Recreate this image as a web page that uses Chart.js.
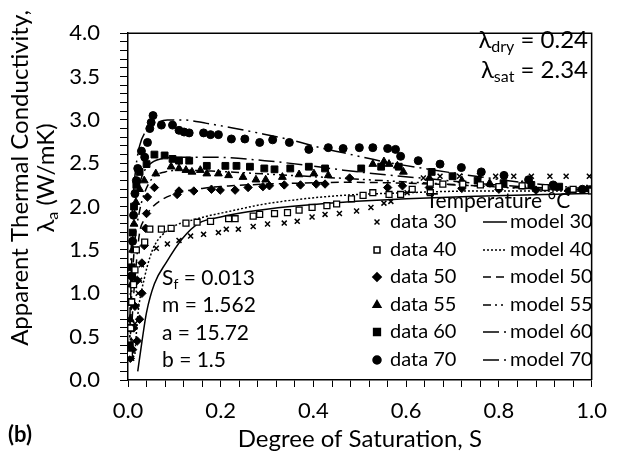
<!DOCTYPE html>
<html>
<head>
<meta charset="utf-8">
<script src="https://cdn.jsdelivr.net/npm/chart.js@4.4.1/dist/chart.umd.min.js"></script>
<style>
  html, body { margin: 0; padding: 0; background: #fff; }
  #wrap { width: 618px; height: 455px; }
</style>
</head>
<body>
<div id="wrap"><canvas id="c"></canvas></div>
<script>
// measured data (degree of saturation S, apparent conductivity)
const S_D30 = [0.008,0.012,0.015,0.018,0.022,0.025,0.029,0.061,0.085,0.11,0.135,0.163,0.195,0.212,0.238,0.27,0.301,0.337,0.365,0.397,0.425,0.456,0.493,0.524,0.552,0.567,0.602,0.637,0.673,0.715,0.758,0.793,0.832,0.87,0.91,0.945,0.995]
const L_D30 = [0.25,0.45,0.65,0.85,1.0,1.15,1.33,1.52,1.57,1.61,1.66,1.68,1.70,1.74,1.74,1.77,1.80,1.81,1.83,1.88,1.91,1.92,1.95,1.99,2.04,2.06,2.16,2.33,2.35,2.35,2.36,2.35,2.35,2.35,2.35,2.35,2.35]

const S_D40 = [0.003,0.006,0.008,0.012,0.015,0.018,0.036,0.047,0.072,0.093,0.125,0.149,0.178,0.217,0.231,0.27,0.284,0.316,0.344,0.369,0.397,0.429,0.45,0.482,0.507,0.528,0.563,0.588,0.613,0.652,0.652,0.679,0.722,0.76,0.8,0.85,0.9,0.96,1.0]
const L_D40 = [0.3,0.6,0.9,1.1,1.27,1.5,1.59,1.74,1.74,1.75,1.81,1.82,1.83,1.86,1.86,1.89,1.91,1.92,1.93,1.96,1.99,2.01,2.03,2.09,2.13,2.16,2.14,2.14,2.20,2.16,2.27,2.26,2.26,2.25,2.23,2.24,2.22,2.20,2.18]

const S_D50 = [0.005,0.01,0.02,0.012,0.025,0.015,0.03,0.02,0.03,0.035,0.038,0.04,0.042,0.057,0.106,0.11,0.142,0.18,0.199,0.231,0.259,0.291,0.305,0.337,0.372,0.406,0.425,0.478,0.56,0.592,0.65,0.72,0.8,0.88,0.95]
const L_D50 = [0.25,0.35,0.45,0.6,0.7,0.85,1.0,1.15,1.35,1.55,1.75,1.92,2.11,2.22,2.14,2.18,2.18,2.20,2.19,2.19,2.22,2.23,2.24,2.25,2.25,2.26,2.26,2.33,2.22,2.24,2.22,2.21,2.20,2.19,2.18]

const S_D55 = [0.003,0.005,0.007,0.01,0.013,0.017,0.025,0.035,0.06,0.093,0.11,0.125,0.138,0.156,0.17,0.195,0.217,0.248,0.276,0.297,0.333,0.369,0.401,0.432,0.528,0.552,0.563,0.581,0.594,0.65,0.72,0.78,0.85,0.92,0.99]
const L_D55 = [0.3,0.7,1.1,1.5,1.8,2.05,2.2,2.3,2.38,2.46,2.44,2.42,2.40,2.42,2.38,2.38,2.36,2.34,2.31,2.31,2.34,2.37,2.38,2.36,2.49,2.52,2.49,2.47,2.40,2.33,2.30,2.27,2.25,2.22,2.20]

const S_D60 = [0.004,0.006,0.008,0.01,0.013,0.018,0.025,0.04,0.057,0.079,0.096,0.11,0.132,0.17,0.21,0.234,0.263,0.294,0.316,0.35,0.39,0.425,0.503,0.546,0.584,0.655,0.70,0.754,0.81,0.87,0.93,1.0]
const L_D60 = [0.4,0.9,1.3,1.7,2.0,2.25,2.4,2.49,2.60,2.59,2.55,2.53,2.53,2.47,2.47,2.47,2.46,2.44,2.43,2.44,2.46,2.44,2.44,2.46,2.46,2.40,2.35,2.30,2.27,2.25,2.23,2.20]

const S_D70 = [0.005,0.008,0.01,0.012,0.015,0.018,0.021,0.029,0.036,0.042,0.047,0.05,0.054,0.072,0.096,0.11,0.121,0.132,0.163,0.178,0.195,0.223,0.252,0.284,0.312,0.348,0.39,0.432,0.464,0.499,0.528,0.56,0.577,0.588,0.626,0.673,0.719,0.762,0.811,0.864,0.917,0.98]
const L_D70 = [0.6,1.2,1.6,1.9,2.15,2.3,2.44,2.64,2.57,2.74,2.90,2.97,3.05,2.94,2.94,2.88,2.86,2.85,2.85,2.83,2.83,2.78,2.78,2.74,2.77,2.74,2.66,2.68,2.67,2.68,2.68,2.67,2.66,2.58,2.53,2.49,2.45,2.40,2.36,2.31,2.25,2.20]

// model curves
const S_M30 = [0.021,0.03,0.04,0.057,0.083,0.117,0.153,0.2,0.259,0.35,0.464,0.6,0.75,0.9,1.0]
const L_M30 = [0.1,0.44,0.78,1.11,1.36,1.63,1.81,1.88,1.94,2.0,2.05,2.09,2.12,2.14,2.15]
const S_M40 = [0.015,0.021,0.036,0.047,0.057,0.089,0.15,0.223,0.295,0.38,0.465,0.6,0.75,0.9,1.0]
const L_M40 = [0.3,0.74,1.19,1.41,1.55,1.74,1.86,1.95,2.03,2.09,2.13,2.16,2.18,2.18,2.18]
const S_M50 = [0.005,0.01,0.018,0.025,0.035,0.047,0.07,0.11,0.16,0.223,0.3,0.365,0.465,0.6,0.75,0.9,1.0]
const L_M50 = [0.25,0.8,1.35,1.7,1.85,1.96,2.07,2.16,2.21,2.24,2.26,2.27,2.28,2.27,2.24,2.2,2.17]
const S_M55 = [0.004,0.008,0.015,0.025,0.035,0.053,0.08,0.117,0.18,0.25,0.35,0.45,0.55,0.65,0.75,0.85,1.0]
const L_M55 = [0.25,1.0,1.6,1.95,2.15,2.33,2.4,2.42,2.41,2.39,2.36,2.33,2.3,2.27,2.24,2.21,2.18]
const S_M60 = [0.003,0.007,0.012,0.02,0.03,0.045,0.07,0.117,0.18,0.295,0.38,0.465,0.55,0.65,0.75,0.85,1.0]
const L_M60 = [0.25,1.2,1.8,2.15,2.35,2.48,2.55,2.57,2.57,2.53,2.48,2.42,2.37,2.32,2.27,2.23,2.19]
const S_M70 = [0.003,0.006,0.01,0.017,0.025,0.04,0.06,0.085,0.117,0.17,0.223,0.28,0.35,0.414,0.465,0.55,0.65,0.75,0.85,1.0]
const L_M70 = [0.25,1.3,2.0,2.45,2.7,2.88,2.96,3.0,3.0,2.96,2.91,2.85,2.77,2.68,2.62,2.52,2.43,2.35,2.28,2.2]

const TEMPS = ['30', '40', '50', '55', '60', '70']

const FONT = 'Lato, "Open Sans", sans-serif'

const pts = (xs, ys) => xs.map((x, i) => ({ x: x, y: ys[i] }))

const markers = [
  { pointStyle: 'crossRot', radius: 3.5, bg: '#000', bw: 1.5 },
  { pointStyle: 'rect', radius: 4.2, bg: '#fff', bw: 1.3 },
  { pointStyle: 'rectRot', radius: 4.2, bg: '#000', bw: 1 },
  { pointStyle: 'triangle', radius: 4.5, bg: '#000', bw: 1 },
  { pointStyle: 'rect', radius: 4.8, bg: '#000', bw: 1 },
  { pointStyle: 'circle', radius: 4, bg: '#000', bw: 1 },
]
const dashes = [[], [2, 2], [8, 5], [8, 4, 2, 4, 2, 4], [16, 5, 2, 5], [16, 5, 2, 5, 2, 5]]

const dataS = [S_D30, S_D40, S_D50, S_D55, S_D60, S_D70]
const dataL = [L_D30, L_D40, L_D50, L_D55, L_D60, L_D70]
const modS = [S_M30, S_M40, S_M50, S_M55, S_M60, S_M70]
const modL = [L_M30, L_M40, L_M50, L_M55, L_M60, L_M70]

const datasets = []
TEMPS.forEach((t, i) => {
  const m = markers[i]
  datasets.push({
    label: 'data ' + t,
    data: pts(dataS[i], dataL[i]),
    showLine: false,
    pointStyle: m.pointStyle,
    pointRadius: m.radius,
    pointBackgroundColor: m.bg,
    pointBorderColor: '#000',
    pointBorderWidth: m.bw,
    order: 1,
  })
})
TEMPS.forEach((t, i) => {
  datasets.push({
    label: 'model ' + t,
    data: pts(modS[i], modL[i]),
    showLine: true,
    pointRadius: 0,
    borderColor: '#000',
    borderWidth: 1.5,
    borderDash: dashes[i],
    cubicInterpolationMode: 'monotone',
    order: 2,
  })
})

// text with subscripts: parts = [[text, isSub], ...]
function drawRich(ctx, parts, x, y, size, align) {
  const subSize = Math.round(size * 0.65)
  let w = 0
  parts.forEach(p => {
    ctx.font = (p[1] ? subSize : size) + 'px ' + FONT
    w += ctx.measureText(p[0]).width
  })
  let cx = align === 'center' ? x - w / 2 : align === 'right' ? x - w : x
  ctx.textAlign = 'left'
  ctx.textBaseline = 'middle'
  parts.forEach(p => {
    ctx.font = (p[1] ? subSize : size) + 'px ' + FONT
    ctx.fillText(p[0], cx, p[1] ? y + size * 0.3 : y)
    cx += ctx.measureText(p[0]).width
  })
}

const extras = {
  id: 'extras',
  afterDraw(chart) {
    const ctx = chart.ctx
    const a = chart.chartArea
    ctx.save()
    ctx.fillStyle = '#000'
    ctx.strokeStyle = '#000'

    // frame top and right
    ctx.lineWidth = 1.5
    ctx.beginPath()
    ctx.moveTo(a.left, a.top)
    ctx.lineTo(a.right, a.top)
    ctx.lineTo(a.right, a.bottom)
    ctx.stroke()

    // y axis title
    ctx.save()
    ctx.translate(20, 178)
    ctx.rotate(-Math.PI / 2)
    drawRich(ctx, [['Apparent Thermal Conductivity,']], 0, 0, 24, 'center')
    ctx.restore()
    ctx.save()
    ctx.translate(46, 178)
    ctx.rotate(-Math.PI / 2)
    drawRich(ctx, [['λ'], ['a', true], [' (W/mK)']], 0, 0, 24, 'center')
    ctx.restore()

    // panel label
    ctx.font = 'bold 22px ' + FONT
    ctx.textAlign = 'left'
    ctx.textBaseline = 'middle'
    ctx.fillText('(b)', 8, 435)

    // parameters
    drawRich(ctx, [['λ'], ['dry', true], [' = 0.24']], 588, 40, 24, 'right')
    drawRich(ctx, [['λ'], ['sat', true], [' = 2.34']], 588, 70, 24, 'right')
    drawRich(ctx, [['S'], ['f', true], [' = 0.013']], 162, 278, 21, 'left')
    drawRich(ctx, [['m = 1.562']], 162, 305, 21, 'left')
    drawRich(ctx, [['a = 15.72']], 162, 333, 21, 'left')
    drawRich(ctx, [['b = 1.5']], 162, 360, 21, 'left')

    // legend
    drawRich(ctx, [['Temperature °C']], 498, 201, 21, 'center')
    const rows = [222, 250, 277, 305, 332, 360]
    TEMPS.forEach((t, i) => {
      const y = rows[i]
      const m = markers[i]
      ctx.fillStyle = m.bg
      ctx.strokeStyle = '#000'
      Chart.helpers.drawPoint(ctx, {
        pointStyle: m.pointStyle, radius: m.radius, rotation: 0, borderWidth: m.bw,
      }, 377, y)
      ctx.fillStyle = '#000'
      drawRich(ctx, [['data ' + t]], 390, y, 20, 'left')
      ctx.lineWidth = 1.5
      ctx.setLineDash(dashes[i])
      ctx.beginPath()
      ctx.moveTo(483, y)
      ctx.lineTo(507, y)
      ctx.stroke()
      ctx.setLineDash([])
      drawRich(ctx, [['model ' + t]], 510, y, 20, 'left')
    })
    ctx.restore()
  }
}

const isMult = (v, step) => Math.abs(v / step - Math.round(v / step)) < 1e-6

new Chart(document.getElementById('c'), {
  type: 'scatter',
  data: { datasets: datasets },
  plugins: [extras],
  options: {
    responsive: true,
    maintainAspectRatio: false,
    animation: false,
    layout: { padding: { top: 19, right: 19, left: 0, bottom: 0 } },
    plugins: { legend: { display: false }, tooltip: { enabled: false } },
    scales: {
      x: {
        type: 'linear',
        min: 0,
        max: 1,
        afterFit: (s) => { s.height = 75 },
        border: { display: true, color: '#000', width: 1.5 },
        grid: { drawOnChartArea: false, drawTicks: true, tickLength: 7, color: '#000', lineWidth: 1 },
        ticks: {
          stepSize: 0.04,
          autoSkip: false,
          maxRotation: 0,
          padding: 11,
          color: '#000',
          font: { family: FONT, size: 22 },
          callback: (v) => isMult(v, 0.2) ? Number(v).toFixed(1) : '',
        },
        title: {
          display: true,
          text: 'Degree of Saturation, S',
          color: '#000',
          font: { family: FONT, size: 24 },
          padding: { top: 0, bottom: 1 },
        },
      },
      y: {
        type: 'linear',
        min: 0,
        max: 4,
        afterFit: (s) => { s.width = 128 },
        border: { display: true, color: '#000', width: 1.5 },
        grid: { drawOnChartArea: false, drawTicks: true, tickLength: 8, color: '#000', lineWidth: 1 },
        ticks: {
          stepSize: 0.1,
          autoSkip: false,
          padding: 20,
          color: '#000',
          font: { family: FONT, size: 22 },
          callback: (v) => isMult(v, 0.5) ? Number(v).toFixed(1) : '',
        },
      },
    },
  },
})
</script>
</body>
</html>
